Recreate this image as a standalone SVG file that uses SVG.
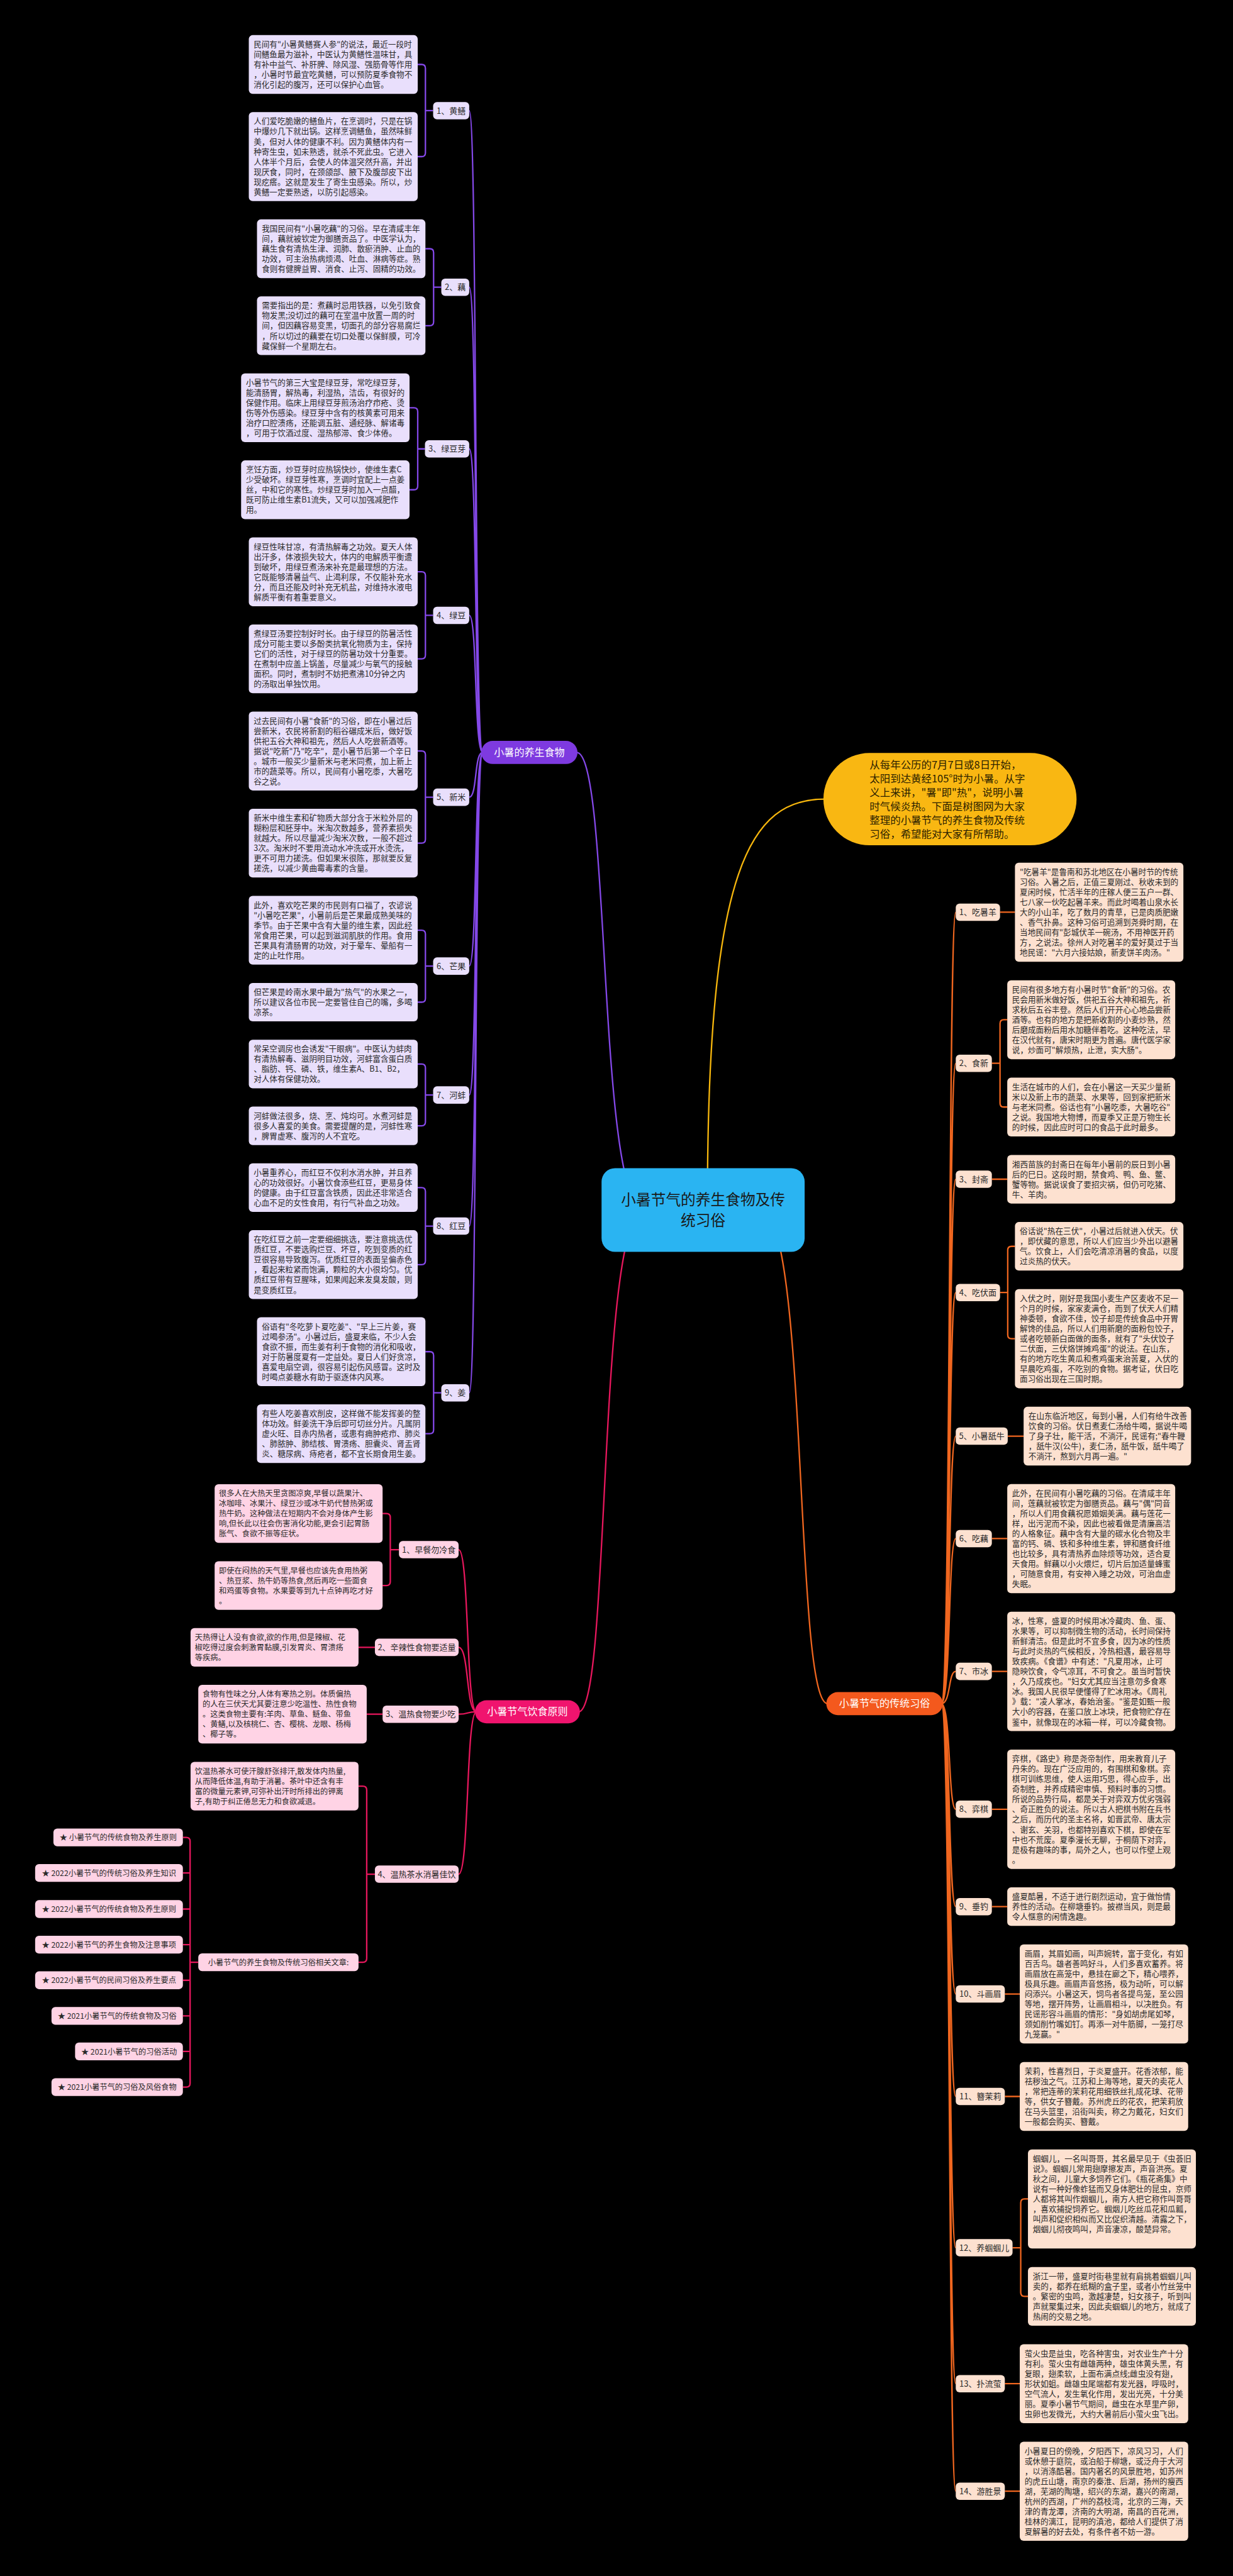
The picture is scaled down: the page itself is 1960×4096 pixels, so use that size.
<svg xmlns="http://www.w3.org/2000/svg" width="1960" height="4096" viewBox="0 0 1960 4096">
<style>
.t{font-family:"Noto Sans CJK SC","Noto Sans",sans-serif;font-size:16.5px;fill:#2a2a2a}
.tk{font-family:"Noto Sans CJK SC","Noto Sans",sans-serif;font-size:16px;fill:#2a2a2a}
.lb{font-family:"Noto Sans CJK SC","Noto Sans",sans-serif;font-size:17px;fill:#2a2a2a;text-anchor:middle}
.sm{font-family:"Noto Sans CJK SC","Noto Sans",sans-serif;font-size:16px;fill:#2a2a2a;text-anchor:middle}
.mn{font-family:"Noto Sans CJK SC","Noto Sans",sans-serif;font-size:21px;fill:#ffffff;text-anchor:middle}
.bp{fill:#e9dffc}
.bk{fill:#ffd3e5}
.bo{fill:#fde1d0}
.cp{stroke:#8448e8;stroke-width:3;fill:none}
.ck{stroke:#e8175d;stroke-width:3;fill:none}
.co{stroke:#f0661f;stroke-width:3;fill:none}
.cy{stroke:#f6b60d;stroke-width:3;fill:none}
</style>
<rect width="1960" height="4096" fill="#000"/>
<g transform="scale(0.765)">
<g id="connectors">
<path class="cp" d="M1340,2515 C1240,2515 1270,1564 1198,1564"/>
<path class="ck" d="M1340,2515 C1240,2515 1270,3558 1202,3558"/>
<path class="co" d="M1580,2515 C1680,2515 1650,3541 1720,3541"/>
<path class="cy" d="M1470,2500 C1470,1800 1560,1661 1714,1661"/>
<path class="cp" d="M1003,1564 C985,1564 992,230 975,230 M1003,1564 C985,1564 992,597 975,597 M1003,1564 C985,1564 992,933 975,933 M1003,1564 C985,1564 992,1279 975,1279 M1003,1564 C985,1564 992,1657 975,1657 M1003,1564 C985,1564 992,2008 975,2008 M1003,1564 C985,1564 992,2276 975,2276 M1003,1564 C985,1564 992,2548.5 975,2548.5 M1003,1564 C985,1564 992,2895 975,2895"/>
<path class="cp" d="M868,134 H876 Q884,134 884,142 V317.5 Q884,325.5 876,325.5 H868 M884,230 H900"/>
<path class="cp" d="M884,517 H893 Q901,517 901,525 V669 Q901,677 893,677 H884 M901,597 H917"/>
<path class="cp" d="M851,847.5 H860 Q868,847.5 868,855.5 V1010 Q868,1018 860,1018 H851 M868,933 H883"/>
<path class="cp" d="M868,1188.5 H876 Q884,1188.5 884,1196.5 V1361.5 Q884,1369.5 876,1369.5 H868 M884,1279 H900"/>
<path class="cp" d="M868,1561 H876 Q884,1561 884,1569 V1744.5 Q884,1752.5 876,1752.5 H868 M884,1657 H900"/>
<path class="cp" d="M868,1933.5 H876 Q884,1933.5 884,1941.5 V2075 Q884,2083 876,2083 H868 M884,2008 H900"/>
<path class="cp" d="M868,2211.5 H876 Q884,2211.5 884,2219.5 V2332 Q884,2340 876,2340 H868 M884,2276 H900"/>
<path class="cp" d="M868,2468.5 H876 Q884,2468.5 884,2476.5 V2620.5 Q884,2628.5 876,2628.5 H868 M884,2548.5 H900"/>
<path class="cp" d="M884,2809.5 H893 Q901,2809.5 901,2817.5 V2972 Q901,2980 893,2980 H884 M901,2895 H917"/>
<path class="ck" d="M990,3558 C968,3558 975,3221 953,3221 M990,3558 C968,3558 975,3424 953,3424 M990,3558 C968,3558 975,3563 953,3563 M990,3558 C968,3558 975,3895.5 953,3895.5"/>
<path class="ck" d="M795,3146 H803 Q811,3146 811,3154 V3287.5 Q811,3295.5 803,3295.5 H795 M811,3221 H829"/>
<path class="ck" d="M745,3424 H779 M762,3563 H795"/>
<path class="ck" d="M745,3712.5 H754 Q762,3712.5 762,3720.5 V4070.5 Q762,4078.5 754,4078.5 H745 M762,3895.5 H779"/>
<path class="ck" d="M380,3819 H387 Q395,3819 395,3827 V4330 Q395,4338 387,4338 H380 M380,3893 H395 M380,3968 H395 M380,4042 H395 M380,4116 H395 M380,4190 H395 M380,4264 H395 M395,4078.5 H412"/>
<path class="co" d="M1956,3541 C1976,3541 1970,1896 1986,1896 M1956,3541 C1976,3541 1970,2210 1986,2210 M1956,3541 C1976,3541 1970,2451 1986,2451 M1956,3541 C1976,3541 1970,2686.5 1986,2686.5 M1956,3541 C1976,3541 1970,2985 1986,2985 M1956,3541 C1976,3541 1970,3198 1986,3198 M1956,3541 C1976,3541 1970,3474 1986,3474 M1956,3541 C1976,3541 1970,3760.5 1986,3760.5 M1956,3541 C1976,3541 1970,3963 1986,3963 M1956,3541 C1976,3541 1970,4144.5 1986,4144.5 M1956,3541 C1976,3541 1970,4357.5 1986,4357.5 M1956,3541 C1976,3541 1970,4672 1986,4672 M1956,3541 C1976,3541 1970,4954.5 1986,4954.5 M1956,3541 C1976,3541 1970,5178 1986,5178"/>
<path class="co" d="M2078,1896 H2109 M2061,2451 H2093 M2094,2985 H2127 M2061,3198 H2093 M2061,3474 H2093 M2061,3760.5 H2093 M2061,3963 H2093 M2088,4144.5 H2119 M2088,4357.5 H2119 M2088,4954.5 H2119 M2088,5178 H2119"/>
<path class="co" d="M2061,2210 H2078 M2093,2119.5 H2086 Q2078,2119.5 2078,2127.5 V2293 Q2078,2301 2086,2301 H2093"/>
<path class="co" d="M2078,2686.5 H2094 M2109,2590.5 H2102 Q2094,2590.5 2094,2598.5 V2774.5 Q2094,2782.5 2102,2782.5 H2109"/>
<path class="co" d="M2104,4672 H2121 M2136,4570.5 H2129 Q2121,4570.5 2121,4578.5 V4765 Q2121,4773 2129,4773 H2136"/>
</g>

<g id="center">
<rect x="1250" y="2428" width="422" height="174" rx="28" fill="#2ab4f2"/>
<text x="1461" y="2504" font-family="Noto Sans CJK SC, sans-serif" font-size="31" fill="#1a1a1a" text-anchor="middle"><tspan x="1461" dy="0">小暑节气的养生食物及传</tspan><tspan x="1461" dy="44">统习俗</tspan></text>
</g>

<g id="intro">
<rect x="1711" y="1565" width="526" height="192" rx="96" fill="#f9b712"/>
<text x="1807" y="1598" font-family="Noto Sans CJK SC, sans-serif" font-size="21.5" fill="#2b2100"><tspan x="1807" dy="0">从每年公历的7月7日或8日开始，</tspan><tspan x="1807" dy="28.6">太阳到达黄经105°时为小暑。从字</tspan><tspan x="1807" dy="28.6">义上来讲，"暑"即"热"，说明小暑</tspan><tspan x="1807" dy="28.6">时气候炎热。下面是树图网为大家</tspan><tspan x="1807" dy="28.6">整理的小暑节气的养生食物及传统</tspan><tspan x="1807" dy="28.6">习俗，希望能对大家有所帮助。</tspan></text>
</g>

<g id="branch-food">
<rect x="1000" y="1540" width="200" height="48" rx="24" fill="#7e3ae0"/>
<text class="mn" x="1100" y="1571">小暑的养生食物</text>
</g>

<g id="food-1">
<rect class="bp" x="900" y="212" width="75" height="36" rx="8"/><text class="lb" x="937.5" y="236">1、黄鳝</text>
<rect class="bp" x="517" y="73" width="351" height="122" rx="8"/>
<text class="t" x="527" y="98"><tspan x="527" dy="0">民间有"小暑黄鳝赛人参"的说法，最近一段时</tspan><tspan x="527" dy="21">间鳝鱼最为滋补，中医认为黄鳝性温味甘，具</tspan><tspan x="527" dy="21">有补中益气、补肝脾、除风湿、强筋骨等作用</tspan><tspan x="527" dy="21">，小暑时节最宜吃黄鳝，可以预防夏季食物不</tspan><tspan x="527" dy="21">消化引起的腹泻，还可以保护心血管。</tspan></text>
<rect class="bp" x="517" y="233" width="351" height="185" rx="8"/>
<text class="t" x="527" y="258"><tspan x="527" dy="0">人们爱吃脆嫩的鳝鱼片，在烹调时，只是在锅</tspan><tspan x="527" dy="21">中爆炒几下就出锅。这样烹调鳝鱼，虽然味鲜</tspan><tspan x="527" dy="21">美，但对人体的健康不利。因为黄鳝体内有一</tspan><tspan x="527" dy="21">种寄生虫，如未熟透，就杀不死此虫。它进入</tspan><tspan x="527" dy="21">人体半个月后，会使人的体温突然升高，并出</tspan><tspan x="527" dy="21">现厌食，同时，在颈颌部、腋下及腹部皮下出</tspan><tspan x="527" dy="21">现疙瘩。这就是发生了寄生虫感染。所以，炒</tspan><tspan x="527" dy="21">黄鳝一定要熟透，以防引起感染。</tspan></text>
</g>

<g id="food-2">
<rect class="bp" x="917" y="579" width="58" height="36" rx="8"/><text class="lb" x="946" y="603">2、藕</text>
<rect class="bp" x="534" y="456" width="350" height="122" rx="8"/>
<text class="t" x="544" y="481"><tspan x="544" dy="0">我国民间有"小暑吃藕"的习俗。早在清咸丰年</tspan><tspan x="544" dy="21">间，藕就被钦定为御膳贡品了。中医学认为，</tspan><tspan x="544" dy="21">藕生食有清热生津、润肺、散瘀消肿、止血的</tspan><tspan x="544" dy="21">功效，可主治热病烦渴、吐血、淋病等症。熟</tspan><tspan x="544" dy="21">食则有健脾益胃、消食、止泻、固精的功效。</tspan></text>
<rect class="bp" x="534" y="616" width="350" height="122" rx="8"/>
<text class="t" x="544" y="641"><tspan x="544" dy="0">需要指出的是：煮藕时忌用铁器，以免引致食</tspan><tspan x="544" dy="21">物发黑;没切过的藕可在室温中放置一周的时</tspan><tspan x="544" dy="21">间，但因藕容易变黑，切面孔的部分容易腐烂</tspan><tspan x="544" dy="21">，所以切过的藕要在切口处覆以保鲜膜，可冷</tspan><tspan x="544" dy="21">藏保鲜一个星期左右。</tspan></text>
</g>

<g id="food-3">
<rect class="bp" x="883" y="915" width="92" height="36" rx="8"/><text class="lb" x="929" y="939">3、绿豆芽</text>
<rect class="bp" x="501" y="776" width="350" height="143" rx="8"/>
<text class="t" x="511" y="801"><tspan x="511" dy="0">小暑节气的第三大宝是绿豆芽，常吃绿豆芽，</tspan><tspan x="511" dy="21">能清肠胃，解热毒，利湿热，洁齿，有很好的</tspan><tspan x="511" dy="21">保健作用。临床上用绿豆芽煎汤治疗疖疮、烫</tspan><tspan x="511" dy="21">伤等外伤感染。绿豆芽中含有的核黄素可用来</tspan><tspan x="511" dy="21">治疗口腔溃疡，还能调五脏、通经脉、解诸毒</tspan><tspan x="511" dy="21">，可用于饮酒过度、湿热郁滞、食少体倦。</tspan></text>
<rect class="bp" x="501" y="957" width="350" height="122" rx="8"/>
<text class="t" x="511" y="982"><tspan x="511" dy="0">烹饪方面，炒豆芽时应热锅快炒，使维生素C</tspan><tspan x="511" dy="21">少受破坏。绿豆芽性寒，烹调时宜配上一点姜</tspan><tspan x="511" dy="21">丝，中和它的寒性。炒绿豆芽时加入一点醋，</tspan><tspan x="511" dy="21">既可防止维生素B1流失，又可以加强减肥作</tspan><tspan x="511" dy="21">用。</tspan></text>
</g>

<g id="food-4">
<rect class="bp" x="900" y="1261" width="75" height="36" rx="8"/><text class="lb" x="937.5" y="1285">4、绿豆</text>
<rect class="bp" x="517" y="1117" width="351" height="143" rx="8"/>
<text class="t" x="527" y="1142"><tspan x="527" dy="0">绿豆性味甘凉，有清热解毒之功效。夏天人体</tspan><tspan x="527" dy="21">出汗多，体液损失较大，体内的电解质平衡遭</tspan><tspan x="527" dy="21">到破坏，用绿豆煮汤来补充是最理想的方法。</tspan><tspan x="527" dy="21">它既能够清暑益气、止渴利尿，不仅能补充水</tspan><tspan x="527" dy="21">分，而且还能及时补充无机盐，对维持水液电</tspan><tspan x="527" dy="21">解质平衡有着重要意义。</tspan></text>
<rect class="bp" x="517" y="1298" width="351" height="143" rx="8"/>
<text class="t" x="527" y="1323"><tspan x="527" dy="0">煮绿豆汤要控制好时长。由于绿豆的防暑活性</tspan><tspan x="527" dy="21">成分可能主要以多酚类抗氧化物质为主，保持</tspan><tspan x="527" dy="21">它们的活性，对于绿豆的防暑功效十分重要。</tspan><tspan x="527" dy="21">在煮制中应盖上锅盖，尽量减少与氧气的接触</tspan><tspan x="527" dy="21">面积。同时，煮制时不妨把煮沸10分钟之内</tspan><tspan x="527" dy="21">的汤取出单独饮用。</tspan></text>
</g>

<g id="food-5">
<rect class="bp" x="900" y="1639" width="75" height="36" rx="8"/><text class="lb" x="937.5" y="1663">5、新米</text>
<rect class="bp" x="517" y="1479" width="351" height="164" rx="8"/>
<text class="t" x="527" y="1504"><tspan x="527" dy="0">过去民间有小暑"食新"的习俗，即在小暑过后</tspan><tspan x="527" dy="21">尝新米，农民将新割的稻谷碾成米后，做好饭</tspan><tspan x="527" dy="21">供祀五谷大神和祖先，然后人人吃尝新酒等。</tspan><tspan x="527" dy="21">据说"吃新"乃"吃辛"，是小暑节后第一个辛日</tspan><tspan x="527" dy="21">。城市一般买少量新米与老米同煮，加上新上</tspan><tspan x="527" dy="21">市的蔬菜等。所以，民间有小暑吃黍，大暑吃</tspan><tspan x="527" dy="21">谷之说。</tspan></text>
<rect class="bp" x="517" y="1681" width="351" height="143" rx="8"/>
<text class="t" x="527" y="1706"><tspan x="527" dy="0">新米中维生素和矿物质大部分含于米粒外层的</tspan><tspan x="527" dy="21">糊粉层和胚芽中。米淘次数越多，营养素损失</tspan><tspan x="527" dy="21">就越大。所以尽量减少淘米次数，一般不超过</tspan><tspan x="527" dy="21">3次。淘米时不要用流动水冲洗或开水烫洗，</tspan><tspan x="527" dy="21">更不可用力搓洗。但如果米很陈，那就要反复</tspan><tspan x="527" dy="21">搓洗，以减少黄曲霉毒素的含量。</tspan></text>
</g>

<g id="food-6">
<rect class="bp" x="900" y="1990" width="75" height="36" rx="8"/><text class="lb" x="937.5" y="2014">6、芒果</text>
<rect class="bp" x="517" y="1862" width="351" height="143" rx="8"/>
<text class="t" x="527" y="1887"><tspan x="527" dy="0">此外，喜欢吃芒果的市民则有口福了，农谚说</tspan><tspan x="527" dy="21">"小暑吃芒果"，小暑前后是芒果最成熟美味的</tspan><tspan x="527" dy="21">季节。由于芒果中含有大量的维生素，因此经</tspan><tspan x="527" dy="21">常食用芒果，可以起到滋润肌肤的作用。食用</tspan><tspan x="527" dy="21">芒果具有清肠胃的功效，对于晕车、晕船有一</tspan><tspan x="527" dy="21">定的止吐作用。</tspan></text>
<rect class="bp" x="517" y="2043" width="351" height="80" rx="8"/>
<text class="t" x="527" y="2068"><tspan x="527" dy="0">但芒果是岭南水果中最为"热气"的水果之一，</tspan><tspan x="527" dy="21">所以建议各位市民一定要管住自己的嘴，多喝</tspan><tspan x="527" dy="21">凉茶。</tspan></text>
</g>

<g id="food-7">
<rect class="bp" x="900" y="2258" width="75" height="36" rx="8"/><text class="lb" x="937.5" y="2282">7、河蚌</text>
<rect class="bp" x="517" y="2161" width="351" height="101" rx="8"/>
<text class="t" x="527" y="2186"><tspan x="527" dy="0">常呆空调房也会诱发"干眼病"。中医认为蚌肉</tspan><tspan x="527" dy="21">有清热解毒、滋阴明目功效，河蚌富含蛋白质</tspan><tspan x="527" dy="21">、脂肪、钙、磷、铁，维生素A、B1、B2，</tspan><tspan x="527" dy="21">对人体有保健功效。</tspan></text>
<rect class="bp" x="517" y="2300" width="351" height="80" rx="8"/>
<text class="t" x="527" y="2325"><tspan x="527" dy="0">河蚌做法很多，烧、烹、炖均可。水煮河蚌是</tspan><tspan x="527" dy="21">很多人喜爱的美食。需要提醒的是，河蚌性寒</tspan><tspan x="527" dy="21">，脾胃虚寒、腹泻的人不宜吃。</tspan></text>
</g>

<g id="food-8">
<rect class="bp" x="900" y="2530.5" width="75" height="36" rx="8"/><text class="lb" x="937.5" y="2554.5">8、红豆</text>
<rect class="bp" x="517" y="2418" width="351" height="101" rx="8"/>
<text class="t" x="527" y="2443"><tspan x="527" dy="0">小暑重养心，而红豆不仅利水消水肿，并且养</tspan><tspan x="527" dy="21">心的功效很好。小暑饮食添些红豆，更易身体</tspan><tspan x="527" dy="21">的健康。由于红豆富含铁质，因此还非常适合</tspan><tspan x="527" dy="21">心血不足的女性食用，有行气补血之功效。</tspan></text>
<rect class="bp" x="517" y="2557" width="351" height="143" rx="8"/>
<text class="t" x="527" y="2582"><tspan x="527" dy="0">在吃红豆之前一定要细细挑选，要注意挑选优</tspan><tspan x="527" dy="21">质红豆，不要选购烂豆、坏豆，吃到变质的红</tspan><tspan x="527" dy="21">豆很容易导致腹泻。优质红豆的表面呈偏赤色</tspan><tspan x="527" dy="21">，看起来粒紧而饱满，颗粒的大小很均匀。优</tspan><tspan x="527" dy="21">质红豆带有豆腥味，如果闻起来发臭发酸，则</tspan><tspan x="527" dy="21">是变质红豆。</tspan></text>
</g>

<g id="food-9">
<rect class="bp" x="917" y="2877" width="58" height="36" rx="8"/><text class="lb" x="946" y="2901">9、姜</text>
<rect class="bp" x="534" y="2738" width="350" height="143" rx="8"/>
<text class="t" x="544" y="2763"><tspan x="544" dy="0">俗语有"冬吃萝卜夏吃姜"、"早上三片姜，赛</tspan><tspan x="544" dy="21">过喝参汤"。小暑过后，盛夏来临，不少人会</tspan><tspan x="544" dy="21">食欲不振，而生姜有利于食物的消化和吸收，</tspan><tspan x="544" dy="21">对于防暑度夏有一定益处。夏日人们好贪凉，</tspan><tspan x="544" dy="21">喜爱电扇空调，很容易引起伤风感冒。这时及</tspan><tspan x="544" dy="21">时喝点姜糖水有助于驱逐体内风寒。</tspan></text>
<rect class="bp" x="534" y="2919" width="350" height="122" rx="8"/>
<text class="t" x="544" y="2944"><tspan x="544" dy="0">有些人吃姜喜欢削皮，这样做不能发挥姜的整</tspan><tspan x="544" dy="21">体功效。鲜姜洗干净后即可切丝分片。凡属阴</tspan><tspan x="544" dy="21">虚火旺、目赤内热者，或患有痈肿疮疖、肺炎</tspan><tspan x="544" dy="21">、肺脓肿、肺结核、胃溃疡、胆囊炎、肾盂肾</tspan><tspan x="544" dy="21">炎、糖尿病、痔疮者，都不宜长期食用生姜。</tspan></text>
</g>

<g id="branch-diet">
<rect x="987" y="3534" width="218" height="48" rx="24" fill="#f0146e"/>
<text class="mn" x="1096" y="3565">小暑节气饮食原则</text>
</g>

<g id="diet-1">
<rect class="bk" x="829" y="3203" width="124" height="36" rx="8"/><text class="lb" x="891" y="3227">1、早餐勿冷食</text>
<rect class="bk" x="446" y="3085" width="349" height="122" rx="8"/>
<text class="tk" x="455" y="3110"><tspan x="455" dy="0">很多人在大热天里贪图凉爽,早餐以蔬果汁、</tspan><tspan x="455" dy="21">冰咖啡、冰果汁、绿豆沙或冰牛奶代替热粥或</tspan><tspan x="455" dy="21">热牛奶。这种做法在短期内不会对身体产生影</tspan><tspan x="455" dy="21">响,但长此以往会伤害消化功能,更会引起胃肠</tspan><tspan x="455" dy="21">胀气、食欲不振等症状。</tspan></text>
<rect class="bk" x="446" y="3245" width="349" height="101" rx="8"/>
<text class="tk" x="455" y="3270"><tspan x="455" dy="0">即使在闷热的天气里,早餐也应该先食用热粥</tspan><tspan x="455" dy="21">、热豆浆、热牛奶等热食,然后再吃一些面食</tspan><tspan x="455" dy="21">和鸡蛋等食物。水果要等到九十点钟再吃才好</tspan><tspan x="455" dy="21">。</tspan></text>
</g>

<g id="diet-2">
<rect class="bk" x="779" y="3406" width="174" height="36" rx="8"/><text class="lb" x="866" y="3430">2、辛辣性食物要适量</text>
<rect class="bk" x="396" y="3384" width="349" height="80" rx="8"/>
<text class="tk" x="405" y="3409"><tspan x="405" dy="0">天热得让人没有食欲,欲的作用,但是辣椒、花</tspan><tspan x="405" dy="21">椒吃得过度会刺激胃黏膜,引发胃炎、胃溃疡</tspan><tspan x="405" dy="21">等疾病。</tspan></text>
</g>

<g id="diet-3">
<rect class="bk" x="795" y="3545" width="158" height="36" rx="8"/><text class="lb" x="874" y="3569">3、温热食物要少吃</text>
<rect class="bk" x="412" y="3502" width="350" height="122" rx="8"/>
<text class="tk" x="421" y="3527"><tspan x="421" dy="0">食物有性味之分,人体有寒热之别。体质偏热</tspan><tspan x="421" dy="21">的人在三伏天尤其要注意少吃温性、热性食物</tspan><tspan x="421" dy="21">。这类食物主要有:羊肉、草鱼、鲢鱼、带鱼</tspan><tspan x="421" dy="21">、黄鳝,以及核桃仁、杏、樱桃、龙眼、杨梅</tspan><tspan x="421" dy="21">、椰子等。</tspan></text>
</g>

<g id="diet-4">
<rect class="bk" x="779" y="3877.5" width="174" height="36" rx="8"/><text class="lb" x="866" y="3901.5">4、温热茶水消暑佳饮</text>
<rect class="bk" x="396" y="3662" width="349" height="101" rx="8"/>
<text class="tk" x="405" y="3687"><tspan x="405" dy="0">饮温热茶水可使汗腺舒张排汗,散发体内热量,</tspan><tspan x="405" dy="21">从而降低体温,有助于消暑。茶叶中还含有丰</tspan><tspan x="405" dy="21">富的微量元素钾,可弥补出汗时所排出的钾离</tspan><tspan x="405" dy="21">子,有助于纠正倦怠无力和食欲减退。</tspan></text>
</g>

<g id="related">
<rect class="bk" x="412" y="4060" width="333" height="37" rx="8"/><text class="sm" x="578.5" y="4084.5">小暑节气的养生食物及传统习俗相关文章:</text>
<rect class="bk" x="111" y="3800.5" width="269" height="37" rx="8"/><text class="sm" x="245.5" y="3825">★ 小暑节气的传统食物及养生原则</text>
<rect class="bk" x="73" y="3874.5" width="307" height="37" rx="8"/><text class="sm" x="226.5" y="3899">★ 2022小暑节气的传统习俗及养生知识</text>
<rect class="bk" x="73" y="3949.5" width="307" height="37" rx="8"/><text class="sm" x="226.5" y="3974">★ 2022小暑节气的传统食物及养生原则</text>
<rect class="bk" x="73" y="4023.5" width="307" height="37" rx="8"/><text class="sm" x="226.5" y="4048">★ 2022小暑节气的养生食物及注意事项</text>
<rect class="bk" x="73" y="4097.5" width="307" height="37" rx="8"/><text class="sm" x="226.5" y="4122">★ 2022小暑节气的民间习俗及养生要点</text>
<rect class="bk" x="107" y="4171.5" width="273" height="37" rx="8"/><text class="sm" x="243.5" y="4196">★ 2021小暑节气的传统食物及习俗</text>
<rect class="bk" x="156" y="4245.5" width="224" height="37" rx="8"/><text class="sm" x="268" y="4270">★ 2021小暑节气的习俗活动</text>
<rect class="bk" x="107" y="4319.5" width="273" height="37" rx="8"/><text class="sm" x="243.5" y="4344">★ 2021小暑节气的习俗及风俗食物</text>
</g>

<g id="branch-custom">
<rect x="1717" y="3517" width="242" height="48" rx="24" fill="#f4591d"/>
<text class="mn" x="1838" y="3548">小暑节气的传统习俗</text>
</g>

<g id="custom-1">
<rect class="bo" x="1986" y="1878" width="92" height="36" rx="8"/><text class="lb" x="2032" y="1902">1、吃暑羊</text>
<rect class="bo" x="2109" y="1793" width="350" height="206" rx="8"/>
<text class="t" x="2119" y="1818"><tspan x="2119" dy="0">"吃暑羊"是鲁南和苏北地区在小暑时节的传统</tspan><tspan x="2119" dy="21">习俗。入暑之后，正值三夏刚过、秋收未到的</tspan><tspan x="2119" dy="21">夏闲时候，忙活半年的庄稼人便三五户一群、</tspan><tspan x="2119" dy="21">七八家一伙吃起暑羊来。而此时喝着山泉水长</tspan><tspan x="2119" dy="21">大的小山羊，吃了数月的青草，已是肉质肥嫩</tspan><tspan x="2119" dy="21">、香气扑鼻。这种习俗可追溯到尧舜时期，在</tspan><tspan x="2119" dy="21">当地民间有"彭城伏羊一碗汤，不用神医开药</tspan><tspan x="2119" dy="21">方，之说法。徐州人对吃暑羊的爱好莫过于当</tspan><tspan x="2119" dy="21">地民谣："六月六接姑娘，新麦饼羊肉汤。"</tspan></text>
</g>

<g id="custom-2">
<rect class="bo" x="1986" y="2192" width="75" height="36" rx="8"/><text class="lb" x="2023.5" y="2216">2、食新</text>
<rect class="bo" x="2093" y="2037.5" width="349" height="164" rx="8"/>
<text class="t" x="2103" y="2062.5"><tspan x="2103" dy="0">民间有很多地方有小暑时节"食新"的习俗。农</tspan><tspan x="2103" dy="21">民会用新米做好饭，供祀五谷大神和祖先，祈</tspan><tspan x="2103" dy="21">求秋后五谷丰登。然后人们开开心心地品尝新</tspan><tspan x="2103" dy="21">酒等。也有的地方是把新收割的小麦炒熟，然</tspan><tspan x="2103" dy="21">后磨成面粉后用水加糖伴着吃。这种吃法，早</tspan><tspan x="2103" dy="21">在汉代就有，唐宋时期更为普遍。唐代医学家</tspan><tspan x="2103" dy="21">说，炒面可"解烦热，止泄，实大肠"。</tspan></text>
<rect class="bo" x="2093" y="2240" width="349" height="122" rx="8"/>
<text class="t" x="2103" y="2265"><tspan x="2103" dy="0">生活在城市的人们，会在小暑这一天买少量新</tspan><tspan x="2103" dy="21">米以及新上市的蔬菜、水果等，回到家把新米</tspan><tspan x="2103" dy="21">与老米同煮。俗话也有"小暑吃黍，大暑吃谷"</tspan><tspan x="2103" dy="21">之说。我国地大物博，而夏季又正是万物生长</tspan><tspan x="2103" dy="21">的时候，因此应时可口的食品于此时最多。</tspan></text>
</g>

<g id="custom-3">
<rect class="bo" x="1986" y="2433" width="75" height="36" rx="8"/><text class="lb" x="2023.5" y="2457">3、封斋</text>
<rect class="bo" x="2093" y="2400.5" width="349" height="101" rx="8"/>
<text class="t" x="2103" y="2425.5"><tspan x="2103" dy="0">湘西苗族的封斋日在每年小暑前的辰日到小暑</tspan><tspan x="2103" dy="21">后的巳日。这段时期，禁食鸡、鸭、鱼、鳖、</tspan><tspan x="2103" dy="21">蟹等物。据说误食了要招灾祸，但仍可吃猪、</tspan><tspan x="2103" dy="21">牛、羊肉。</tspan></text>
</g>

<g id="custom-4">
<rect class="bo" x="1986" y="2668.5" width="92" height="36" rx="8"/><text class="lb" x="2032" y="2692.5">4、吃伏面</text>
<rect class="bo" x="2109" y="2540" width="350" height="101" rx="8"/>
<text class="t" x="2119" y="2565"><tspan x="2119" dy="0">俗话说"热在三伏"，小暑过后就进入伏天。伏</tspan><tspan x="2119" dy="21">，即伏藏的意思，所以人们应当少外出以避暑</tspan><tspan x="2119" dy="21">气。饮食上，人们会吃清凉消暑的食品，以度</tspan><tspan x="2119" dy="21">过炎热的伏天。</tspan></text>
<rect class="bo" x="2109" y="2679.5" width="350" height="206" rx="8"/>
<text class="t" x="2119" y="2704.5"><tspan x="2119" dy="0">入伏之时，刚好是我国小麦生产区麦收不足一</tspan><tspan x="2119" dy="21">个月的时候，家家麦满仓，而到了伏天人们精</tspan><tspan x="2119" dy="21">神委顿，食欲不佳，饺子却是传统食品中开胃</tspan><tspan x="2119" dy="21">解馋的佳品，所以人们用新磨的面粉包饺子，</tspan><tspan x="2119" dy="21">或者吃顿新白面做的面条，就有了"头伏饺子</tspan><tspan x="2119" dy="21">二伏面，三伏烙饼摊鸡蛋"的说法。在山东，</tspan><tspan x="2119" dy="21">有的地方吃生黄瓜和煮鸡蛋来治苦夏，入伏的</tspan><tspan x="2119" dy="21">早晨吃鸡蛋，不吃别的食物。据考证，伏日吃</tspan><tspan x="2119" dy="21">面习俗出现在三国时期。</tspan></text>
</g>

<g id="custom-5">
<rect class="bo" x="1986" y="2967" width="108" height="36" rx="8"/><text class="lb" x="2040" y="2991">5、小暑舐牛</text>
<rect class="bo" x="2127" y="2924" width="348" height="122" rx="8"/>
<text class="t" x="2137" y="2949"><tspan x="2137" dy="0">在山东临沂地区，每到小暑，人们有给牛改善</tspan><tspan x="2137" dy="21">饮食的习俗。伏日煮麦仁汤给牛喝，据说牛喝</tspan><tspan x="2137" dy="21">了身子壮，能干活，不淌汗，民谣有;"春牛鞭</tspan><tspan x="2137" dy="21">，舐牛汉(公牛)，麦仁汤，舐牛饭，舐牛喝了</tspan><tspan x="2137" dy="21">不淌汗，熬到六月再一遍。"</tspan></text>
</g>

<g id="custom-6">
<rect class="bo" x="1986" y="3180" width="75" height="36" rx="8"/><text class="lb" x="2023.5" y="3204">6、吃藕</text>
<rect class="bo" x="2093" y="3084.5" width="349" height="227" rx="8"/>
<text class="t" x="2103" y="3109.5"><tspan x="2103" dy="0">此外，在民间有小暑吃藕的习俗。在清咸丰年</tspan><tspan x="2103" dy="21">间，莲藕就被钦定为御膳贡品。藕与"偶"同音</tspan><tspan x="2103" dy="21">，所以人们用食藕祝愿婚姻美满。藕与莲花一</tspan><tspan x="2103" dy="21">样，出污泥而不染，因此也被看做是清廉高洁</tspan><tspan x="2103" dy="21">的人格象征。藕中含有大量的碳水化合物及丰</tspan><tspan x="2103" dy="21">富的钙、磷、铁和多种维生素，钾和膳食纤维</tspan><tspan x="2103" dy="21">也比较多，具有清热养血除烦等功效，适合夏</tspan><tspan x="2103" dy="21">天食用。鲜藕以小火煨烂，切片后加适量蜂蜜</tspan><tspan x="2103" dy="21">，可随意食用，有安神入睡之功效，可治血虚</tspan><tspan x="2103" dy="21">失眠。</tspan></text>
</g>

<g id="custom-7">
<rect class="bo" x="1986" y="3456" width="75" height="36" rx="8"/><text class="lb" x="2023.5" y="3480">7、市冰</text>
<rect class="bo" x="2093" y="3350" width="349" height="248" rx="8"/>
<text class="t" x="2103" y="3375"><tspan x="2103" dy="0">冰，性寒，盛夏的时候用冰冷藏肉、鱼、蛋、</tspan><tspan x="2103" dy="21">水果等，可以抑制微生物的活动，长时间保持</tspan><tspan x="2103" dy="21">新鲜清洁。但是此时不宜多食，因为冰的性质</tspan><tspan x="2103" dy="21">与此时炎热的气候相反，冷热相遇，最容易导</tspan><tspan x="2103" dy="21">致疾病。《食谱》中有述："凡夏用冰，止可</tspan><tspan x="2103" dy="21">隐映饮食，令气凉耳，不可食之。虽当时暂快</tspan><tspan x="2103" dy="21">，久乃成疾也。"妇女尤其应当注意勿多食寒</tspan><tspan x="2103" dy="21">冰。我国人民很早便懂得了贮冰用冰。《周礼</tspan><tspan x="2103" dy="21">》载："凌人掌冰，春始治鉴。"鉴是如甄一般</tspan><tspan x="2103" dy="21">大小的容器，在鉴口放上冰块，把食物贮存在</tspan><tspan x="2103" dy="21">鉴中，就像现在的冰箱一样，可以冷藏食物。</tspan></text>
</g>

<g id="custom-8">
<rect class="bo" x="1986" y="3742.5" width="75" height="36" rx="8"/><text class="lb" x="2023.5" y="3766.5">8、弈棋</text>
<rect class="bo" x="2093" y="3636.5" width="349" height="248" rx="8"/>
<text class="t" x="2103" y="3661.5"><tspan x="2103" dy="0">弈棋，《路史》称是尧帝制作，用来教育儿子</tspan><tspan x="2103" dy="21">丹朱的。现在广泛应用的，有围棋和象棋。弈</tspan><tspan x="2103" dy="21">棋可训练思维，使人运用巧思，得心应手，出</tspan><tspan x="2103" dy="21">奇制胜，并养成精密审慎、预料时事的习惯。</tspan><tspan x="2103" dy="21">所说的品势行局，都是关于对弈双方优劣强弱</tspan><tspan x="2103" dy="21">、奇正胜负的说法。所以古人把棋书附在兵书</tspan><tspan x="2103" dy="21">之后，而历代的圣主名将，如晋武帝、唐太宗</tspan><tspan x="2103" dy="21">、谢玄、关羽，也都特别喜欢下棋，即使在军</tspan><tspan x="2103" dy="21">中也不荒废。夏季漫长无聊，于桐荫下对弈，</tspan><tspan x="2103" dy="21">是极有趣味的事，局外之人，也可以作壁上观</tspan><tspan x="2103" dy="21">。</tspan></text>
</g>

<g id="custom-9">
<rect class="bo" x="1986" y="3945" width="75" height="36" rx="8"/><text class="lb" x="2023.5" y="3969">9、垂钓</text>
<rect class="bo" x="2093" y="3923" width="349" height="80" rx="8"/>
<text class="t" x="2103" y="3948"><tspan x="2103" dy="0">盛夏酷暑，不适于进行剧烈运动，宜于做怡情</tspan><tspan x="2103" dy="21">养性的活动。在柳塘垂钓。披襟当风，则是最</tspan><tspan x="2103" dy="21">令人惬意的闲情逸趣。</tspan></text>
</g>

<g id="custom-10">
<rect class="bo" x="1986" y="4126.5" width="102" height="36" rx="8"/><text class="lb" x="2037" y="4150.5">10、斗画眉</text>
<rect class="bo" x="2119" y="4041.5" width="350" height="206" rx="8"/>
<text class="t" x="2129" y="4066.5"><tspan x="2129" dy="0">画眉，其眉如画，叫声婉转，富于变化，有如</tspan><tspan x="2129" dy="21">百舌鸟。雄者善鸣好斗，人们多喜欢蓄养。将</tspan><tspan x="2129" dy="21">画眉放在高笼中，悬挂在廊之下，精心喂养，</tspan><tspan x="2129" dy="21">极具乐趣。画眉声音悠扬，极为动听，可以解</tspan><tspan x="2129" dy="21">闷添兴。小暑这天，饲鸟者各提鸟笼，至公园</tspan><tspan x="2129" dy="21">等地，摆开阵势，让画眉相斗，以决胜负。有</tspan><tspan x="2129" dy="21">民谣形容斗画眉的情形："身如胡虏尾如琴，</tspan><tspan x="2129" dy="21">颈如削竹嘴如钉。再添一对牛筋脚，一笼打尽</tspan><tspan x="2129" dy="21">九笼赢。"</tspan></text>
</g>

<g id="custom-11">
<rect class="bo" x="1986" y="4339.5" width="102" height="36" rx="8"/><text class="lb" x="2037" y="4363.5">11、簪茉莉</text>
<rect class="bo" x="2119" y="4286" width="350" height="143" rx="8"/>
<text class="t" x="2129" y="4311"><tspan x="2129" dy="0">茉莉，性喜烈日，于炎夏盛开。花香浓郁，能</tspan><tspan x="2129" dy="21">祛秽浊之气。江苏和上海等地，夏天的卖花人</tspan><tspan x="2129" dy="21">，常把连蒂的茉莉花用细铁丝扎成花球、花带</tspan><tspan x="2129" dy="21">等，供女子簪戴。苏州虎丘的花农，把茉莉放</tspan><tspan x="2129" dy="21">在马头篮里，沿街叫卖，称之为戴花，妇女们</tspan><tspan x="2129" dy="21">一般都会购买、簪戴。</tspan></text>
</g>

<g id="custom-12">
<rect class="bo" x="1986" y="4654" width="118" height="36" rx="8"/><text class="lb" x="2045" y="4678">12、养蝈蝈儿</text>
<rect class="bo" x="2136" y="4467.5" width="349" height="206" rx="8"/>
<text class="t" x="2146" y="4492.5"><tspan x="2146" dy="0">蝈蝈儿，一名叫哥哥，其名最早见于《虫荟旧</tspan><tspan x="2146" dy="21">说》。蝈蝈儿常用翅摩擦发声，声音洪亮。夏</tspan><tspan x="2146" dy="21">秋之间，儿童大多饲养它们。《瓶花斋集》中</tspan><tspan x="2146" dy="21">说有一种好像蚱猛而又身体肥壮的昆虫，京师</tspan><tspan x="2146" dy="21">人都将其叫作烟蝈儿，南方人把它称作叫哥哥</tspan><tspan x="2146" dy="21">，喜欢捕捉饲养它。蝈烟儿吃丝瓜花和瓜瓤，</tspan><tspan x="2146" dy="21">叫声和促织相似而又比促织清越。清露之下，</tspan><tspan x="2146" dy="21">烟蝈儿彻夜鸣叫，声音凄凉，酸楚异常。</tspan></text>
<rect class="bo" x="2136" y="4712" width="349" height="122" rx="8"/>
<text class="t" x="2146" y="4737"><tspan x="2146" dy="0">浙江一带，盛夏时街巷里就有肩挑着蝈蝈儿叫</tspan><tspan x="2146" dy="21">卖的，都养在纸糊的盒子里，或者小竹丝笼中</tspan><tspan x="2146" dy="21">。繁密的虫鸣，激越凄楚，妇女孩子，听到叫</tspan><tspan x="2146" dy="21">声就聚集过来，因此卖蝈蝈儿的地方，就成了</tspan><tspan x="2146" dy="21">热闹的交易之地。</tspan></text>
</g>

<g id="custom-13">
<rect class="bo" x="1986" y="4936.5" width="102" height="36" rx="8"/><text class="lb" x="2037" y="4960.5">13、扑流萤</text>
<rect class="bo" x="2119" y="4872.5" width="350" height="164" rx="8"/>
<text class="t" x="2129" y="4897.5"><tspan x="2129" dy="0">萤火虫是益虫，吃各种害虫，对农业生产十分</tspan><tspan x="2129" dy="21">有利。萤火虫有雌雄两种，雄虫体黄头黑，有</tspan><tspan x="2129" dy="21">复眼，翅柔软，上面布满点线;雌虫没有翅，</tspan><tspan x="2129" dy="21">形状如蛆。雌雄虫尾端都有发光器，呼吸时，</tspan><tspan x="2129" dy="21">空气流人，发生氧化作用，发出光亮，十分美</tspan><tspan x="2129" dy="21">丽。夏季小暑节气期间，雌虫在水草里产卵，</tspan><tspan x="2129" dy="21">虫卵也发微光，大约大暑前后小萤火虫飞出。</tspan></text>
</g>

<g id="custom-14">
<rect class="bo" x="1986" y="5160" width="102" height="36" rx="8"/><text class="lb" x="2037" y="5184">14、游胜景</text>
<rect class="bo" x="2119" y="5075" width="350" height="206" rx="8"/>
<text class="t" x="2129" y="5100"><tspan x="2129" dy="0">小暑夏日的傍晚，夕阳西下，凉风习习，人们</tspan><tspan x="2129" dy="21">或休憩于庭院，或泊船于柳塘，或泛舟于大河</tspan><tspan x="2129" dy="21">，以消涤酷暑。国内著名的风景胜地，如苏州</tspan><tspan x="2129" dy="21">的虎丘山塘，南京的秦淮、后湖，扬州的瘦西</tspan><tspan x="2129" dy="21">湖，芜湖的陶塘，绍兴的东湖，嘉兴的南湖，</tspan><tspan x="2129" dy="21">杭州的西湖，广州的荔枝湾，北京的三海，天</tspan><tspan x="2129" dy="21">津的青龙潭，济南的大明湖，南昌的百花洲，</tspan><tspan x="2129" dy="21">桂林的漓江，昆明的滇池，都给人们提供了消</tspan><tspan x="2129" dy="21">夏解暑的好去处，有条件者不妨一游。</tspan></text>
</g>
</g>
</svg>
